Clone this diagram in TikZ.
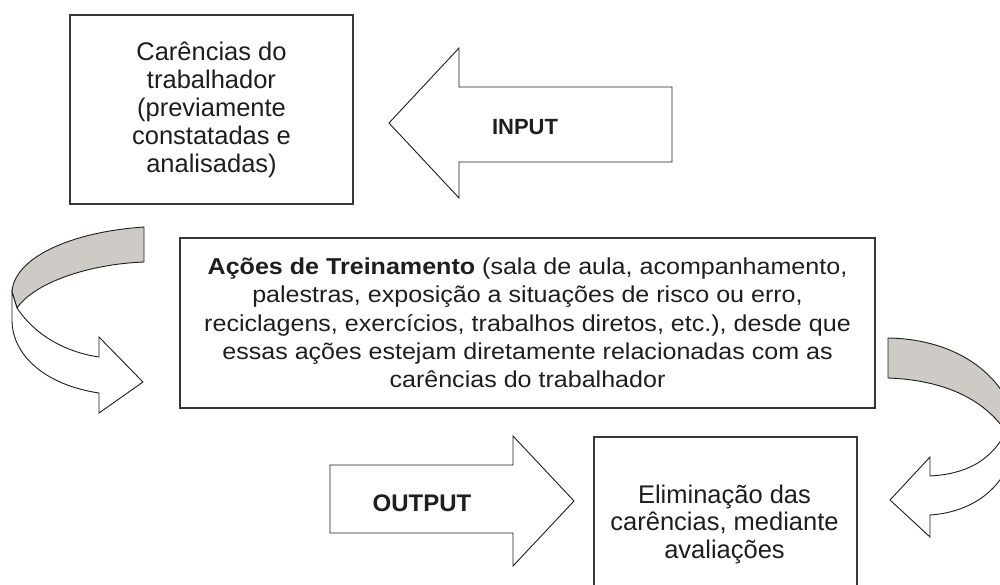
\documentclass[tikz,border=0pt]{standalone}
\usepackage{fontspec}
\setmainfont{Liberation Sans}
\newfontfamily\widesans[FakeStretch=1.09]{Liberation Sans}
\definecolor{ink}{RGB}{30,30,30}
\definecolor{boxline}{RGB}{55,55,55}
\definecolor{ribbon}{RGB}{206,202,198}
\tikzset{
  box/.style={draw=boxline, line width=2.3pt, fill=white, inner sep=0pt, text=ink, align=center},
  bigarrow/.style={draw=ink, line width=0.9pt, fill=white, line join=miter},
  ribbonback/.style={draw=ink, line width=0.9pt, fill=ribbon, line join=round},
  ribbonfront/.style={draw=ink, line width=0.9pt, fill=white, line join=miter},
  lbl/.style={text=ink, font=\bfseries\fontsize{22}{26}\selectfont, inner sep=0pt}
}
\begin{document}
\begin{tikzpicture}[x=1pt,y=-1pt]
\useasboundingbox (0,0) rectangle (1000,584);
\clip (0,0) rectangle (1000,584);
% boxes
\node[box, minimum width=283pt, minimum height=189pt,
      font=\fontsize{25.5}{28}\selectfont] (carencias) at (211.5,109.5)
  {Carências do\\trabalhador\\(previamente\\constatadas e\\analisadas)};
\node[box, minimum width=695pt, minimum height=170pt,
      font=\widesans\fontsize{23}{28.3}\selectfont] (acoes) at (527.5,323)
  {\textbf{Ações de Treinamento} (sala de aula, acompanhamento,\\
   palestras, exposição a situações de risco ou erro,\\
   reciclagens, exercícios, trabalhos diretos, etc.), desde que\\
   essas ações estejam diretamente relacionadas com as\\
   carências do trabalhador};
\node[box, minimum width=263pt, minimum height=180pt, anchor=north west] (elim) at (593,436) {};
\node[text=ink, align=center, inner sep=0pt, font=\fontsize{25.5}{27.5}\selectfont] (elimtxt) at (724.5,524)
  {Eliminação das\\carências, mediante\\avaliações};
% INPUT arrow
\draw[bigarrow] (672,87) -- (459,87) -- (459,48) -- (389,123) -- (459,198) -- (459,162) -- (672,162) -- cycle;
\node[lbl] (input) at (525,127) {INPUT};
% OUTPUT arrow
\draw[bigarrow] (330,465) -- (513,465) -- (513,436) -- (574,501) -- (513,566) -- (513,533) -- (330,533) -- cycle;
\node[lbl, font=\bfseries\fontsize{24}{28}\selectfont] (output) at (422,503) {OUTPUT};
% left curved ribbon arrow
\draw[ribbonback] (144,227) .. controls (70,232) and (14,258) .. (12,292)
  -- (17,308) .. controls (35,282) and (90,264) .. (144,262) -- cycle;
\draw[ribbonfront] (17,308) .. controls (35,335) and (65,352) .. (99,357)
  -- (99,337) -- (143,382) -- (99,413) -- (99,393)
  .. controls (45,385) and (12,355) .. (12,320) -- (12,292) -- cycle;
% right curved ribbon arrow
\draw[ribbonback] (888,338) .. controls (950,339) and (995,368) .. (1012,410)
  -- (1006,432) .. controls (985,400) and (945,380) .. (888,378) -- cycle;
\draw[ribbonfront] (1006,432) .. controls (990,462) and (965,474) .. (930,476)
  -- (930,457) -- (890,500) -- (930,537) -- (930,515)
  .. controls (975,512) and (1010,485) .. (1015,440) -- (1012,410) -- cycle;
\end{tikzpicture}
\end{document}
